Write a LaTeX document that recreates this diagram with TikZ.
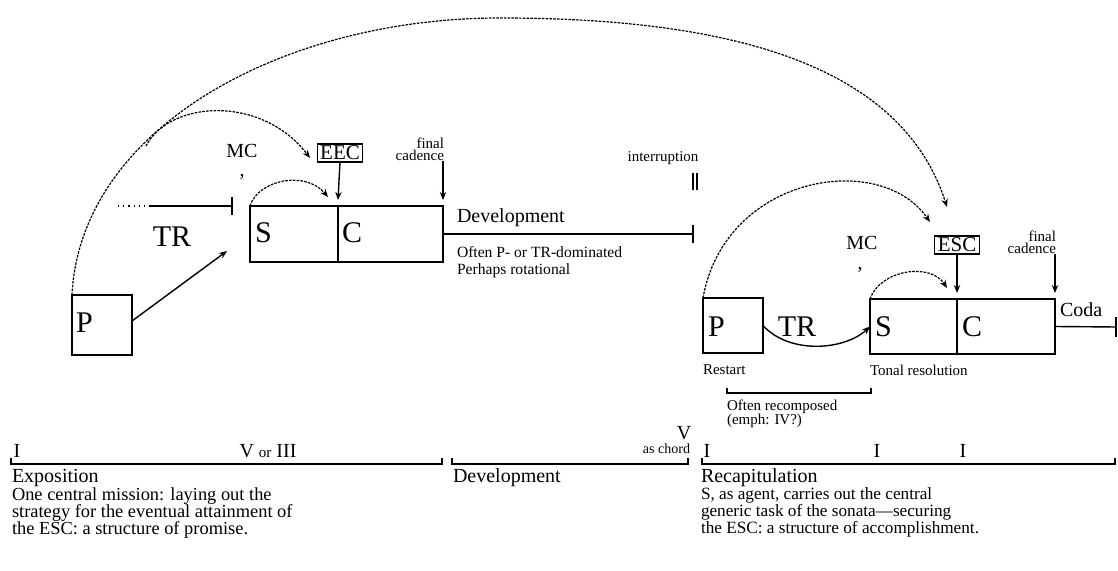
\documentclass[tikz,border=0pt]{standalone}
\usepackage{fontspec}
\setmainfont{Liberation Serif}
\usetikzlibrary{arrows.meta}
\newcommand{\fs}[2]{\fontsize{#1}{#2}\selectfont}
\newcommand{\descfs}[1]{\fontsize{#1}{8.5}\selectfont\lineskiplimit=-5pt\relax}
\begin{document}
\begin{tikzpicture}[x=0.5pt,y=-0.5pt,
  every node/.style={inner sep=0pt, outer sep=0pt},
  box/.style={draw, line width=0.75pt, anchor=north west},
  tbox/.style={draw, line width=0.6pt, inner xsep=1.5pt, inner ysep=1pt, font=\fs{10.5}{12}},
  big/.style={font=\fs{15}{15}, anchor=west},
  mid/.style={font=\fs{10}{12}},
  head/.style={font=\fs{10}{12}, anchor=west},
  small/.style={font=\fs{7.5}{6}, align=right, anchor=south east},
  note/.style={font=\fs{7.8}{8.5}, align=left, anchor=north west},
  desc/.style={font=\descfs{8.6}, align=left, anchor=north west},
  roman/.style={font=\fs{10}{12}},
  line/.style={line width=0.7pt},
  thin/.style={line width=0.6pt},
  arr/.style={-{Stealth[length=4pt,width=3.2pt]}},
  dotline/.style={line width=0.6pt, dash pattern=on 1.3pt off 0.6pt},
]
\useasboundingbox (0,0) rectangle (1118,571);

% ---------- Exposition ----------
\node[box, minimum width=30pt, minimum height=30pt] (P1) at (72,295) {};
\node[big] (P1l) at (76,323) {P};
\node[box, minimum width=44pt, minimum height=28pt] (S1) at (250,206) {};
\node[box, minimum width=52.5pt, minimum height=28pt] (C1) at (338,206) {};
\node[big] (S1l) at (255,233) {S};
\node[big] (C1l) at (342,233) {C};
\node[font=\fs{15}{15}] (TR1) at (172,237) {TR};
\node[mid] (MC1) at (242,151) {MC};
\node[mid] (cm1) at (242,177) {,};
\node[tbox] (EEC) at (340,153) {EEC};
\node[small] (fc1) at (444,161) {final\\cadence};

\coordinate (trA) at (118,206);
\coordinate (trM) at (150,206);
\coordinate (trB) at (232,206);
\draw[thin, dotted] (trA) -- (trM);
\draw[line] (trM) -- (trB);
\draw[line] ([yshift=4.5pt]trB) -- ([yshift=-4.5pt]trB);

\coordinate (ptr) at (227,251);
\draw[line, arr] ([yshift=2pt]P1.east) -- (ptr);

\coordinate (eecs) at (146,146);
\coordinate (eecin) at (310,158);
\draw[dotline, arr] (eecs) .. controls (170,100) and (262,95) .. (eecin);
\coordinate (s1in) at (328,197);
\draw[dotline, arr] (S1.north west) .. controls (258,180) and (305,170) .. (s1in);
\draw[line, arr] (EEC.south) -- ([yshift=3pt]S1.north east);
\draw[line, arr] (fc1.south -| C1.north east) -- ([yshift=3pt]C1.north east);

% ---------- Development ----------
\coordinate (devend) at (693,234);
\draw[line] (C1.east) -- (devend);
\draw[line] ([yshift=4.5pt]devend) -- ([yshift=-4.5pt]devend);
\node[head] (dev1) at (457,218) {Development};
\node[note] (dev2) at (457,247) {Often P- or TR-dominated\\Perhaps rotational};
\node[font=\fs{7.5}{8}] (intr) at (663,158) {interruption};
\coordinate (ia) at (693,173);
\coordinate (ib) at (697,173);
\draw[thin] (ia) -- ++(0,17);
\draw[thin] (ib) -- ++(0,17);

% ---------- Recapitulation ----------
\node[box, minimum width=30pt, minimum height=27.5pt] (P2) at (703,298) {};
\node[big] (P2l) at (708,327) {P};
\node[font=\fs{15}{15}] (TR2) at (797,327) {TR};
\node[box, minimum width=43.5pt, minimum height=27.5pt] (S2) at (870,299) {};
\node[box, minimum width=49pt, minimum height=27.5pt] (C2) at (957,299) {};
\node[big] (S2l) at (875,327) {S};
\node[big] (C2l) at (962,327) {C};
\node[mid] (MC2) at (862,243) {MC};
\node[mid] (cm2) at (860,270) {,};
\node[tbox] (ESC) at (957,245) {ESC};
\node[small] (fc2) at (1056,254) {final\\cadence};
\node[font=\fs{10}{12}, anchor=west] (coda) at (1060,310) {Coda};

\draw[line, arr] (P2.east) .. controls (790,355) and (845,350) .. (S2.west);
\coordinate (s2in) at (947,288);
\draw[dotline, arr] (S2.north west) .. controls (880,270) and (930,262) .. (s2in);
\coordinate (escin2) at (930,222);
\draw[dotline, arr] (P2.north west) .. controls (725,175) and (880,150) .. (escin2);
\draw[line, arr] (ESC.south) -- ([yshift=3pt]S2.north east);
\draw[line, arr] (fc2.south -| C2.north east) -- ([yshift=3pt]C2.north east);

\coordinate (codaend) at (1116,327);
\draw[line] (C2.east) -- (codaend);
\draw[line] ([yshift=5pt]codaend) -- ([yshift=-5pt]codaend);

\node[font=\fs{7.5}{8}, anchor=west] (rest) at (703,370) {Restart};
\node[font=\fs{7.5}{8}, anchor=west] (tonal) at (870,370) {Tonal resolution};
\coordinate (brA) at (727,388);
\coordinate (brB) at (871,388);
\draw[thin] (brA) -- ++(0,5) -| (brB);
\node[font=\fs{7.5}{7}, align=left, anchor=north west] (recomp) at (727,400) {Often recomposed\\(emph: IV?)};

% ---------- big arc ----------
\coordinate (peak) at (500,18);
\coordinate (escin) at (947,207);
\draw[dotline] (P1.north west) .. controls (80,130) and (280,18) .. (peak);
\draw[dotline, arr] (peak) .. controls (720,18) and (900,60) .. (escin);

% ---------- bottom brackets ----------
\coordinate (eA) at (11,458);
\coordinate (eB) at (442,458);
\draw[thin] (eA) -- ++(0,6) -| (eB);
\node[roman] (eI) at (17,451) {I};
\node[roman] (eV) at (268,451) {V {\fs{7.5}{8}or} III};
\node[head] (expo) at (12,478) {Exposition};
\node[desc, font=\descfs{9.2}] (expod) at (12,488) {One central mission: laying out the\\strategy for the eventual attainment of\\the ESC: a structure of promise.};

\coordinate (dA) at (452,458);
\coordinate (dB) at (688,458);
\draw[thin] (dA) -- ++(0,6) -| (dB);
\node[roman] (dV) at (684,433) {V};
\node[font=\fs{7}{8}, anchor=east] (chord) at (690,449) {as chord};
\node[head] (devb) at (453,478) {Development};

\coordinate (rA) at (702,458);
\coordinate (rB) at (1115,458);
\draw[thin] (rA) -- ++(0,6) -| (rB);
\node[roman] (rI1) at (707,451) {I};
\node[roman] (rI2) at (877,451) {I};
\node[roman] (rI3) at (963,451) {I};
\node[head] (recap) at (701,478) {Recapitulation};
\node[desc] (recapd) at (701,488) {S, as agent, carries out the central\\generic task of the sonata---securing\\the ESC: a structure of accomplishment.};
\end{tikzpicture}
\end{document}
